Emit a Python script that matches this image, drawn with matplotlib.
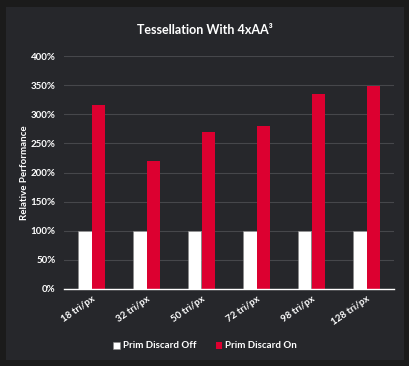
import matplotlib
matplotlib.use("Agg")
import matplotlib.pyplot as plt
from matplotlib.patches import Rectangle
import numpy as np

categories = ["18 tri/px", "32 tri/px", "50 tri/px", "72 tri/px", "98 tri/px", "128 tri/px"]
off_vals = [100, 100, 100, 100, 100, 100]
on_vals = [316, 220, 270, 280, 335, 348]
yticks = [0, 50, 100, 150, 200, 250, 300, 350, 400]

plt.rcParams['font.family'] = ['Lato', 'DejaVu Sans']

W, H = 410, 366
fig = plt.figure(figsize=(W/100, H/100), dpi=100, facecolor='#1b1b1b')
bg = fig.add_axes([0, 0, 1, 1], zorder=-10)
bg.set_xlim(0, W)
bg.set_ylim(H, 0)
bg.axis('off')
bg.add_patch(Rectangle((6, 7), 404-6, 360-7, facecolor='#26272b', edgecolor='none'))

ax = fig.add_axes([64/W, 1 - 289/H, (394-64)/W, (289-56)/H])
ax.set_facecolor('none')
x = np.arange(len(categories))
bw = 0.24
ax.bar(x - bw/2, off_vals, bw, color='white', edgecolor='#888888', linewidth=0.4,
       label='Prim Discard Off', zorder=3)
ax.bar(x + bw/2, on_vals, bw, color='#dc0030', label='Prim Discard On', zorder=3)

ax.set_xlim(-0.5, len(categories) - 0.5)
ax.set_ylim(0, 400)
ax.set_yticks(yticks)
ax.set_yticklabels([f"{v}%" for v in yticks], color='white', fontsize=7, fontweight='bold')
ax.set_xticks(x)
ax.set_xticklabels(categories, rotation=35, ha='right', rotation_mode='anchor',
                   color='white', fontsize=7, fontweight='bold')
ax.tick_params(axis='both', length=0, pad=6)
ax.tick_params(axis='x', pad=4)
ax.grid(axis='y', color='#46474b', linewidth=0.8, zorder=0)
ax.set_axisbelow(True)
for s in ['top', 'right', 'left']:
    ax.spines[s].set_visible(False)
ax.spines['bottom'].set_color('white')
ax.spines['bottom'].set_linewidth(1)
ax.spines['bottom'].set_zorder(4)

ax.set_ylabel('Relative Performance', color='white', fontsize=7, fontweight='bold', labelpad=1)

fig.text(0.5, 1 - 30/H, 'Tessellation With 4xAA³', color='white', fontsize=9,
         fontweight='bold', ha='center', va='center')

leg = fig.legend(loc='center', bbox_to_anchor=(0.5, 1 - 346/H), ncol=2, frameon=False,
                 handlelength=0.7, handleheight=0.7, handletextpad=0.3,
                 columnspacing=2.0, prop={'weight': 'bold', 'size': 7})
for t in leg.get_texts():
    t.set_color('white')

fig.savefig('out.png', dpi=100, facecolor=fig.get_facecolor())
